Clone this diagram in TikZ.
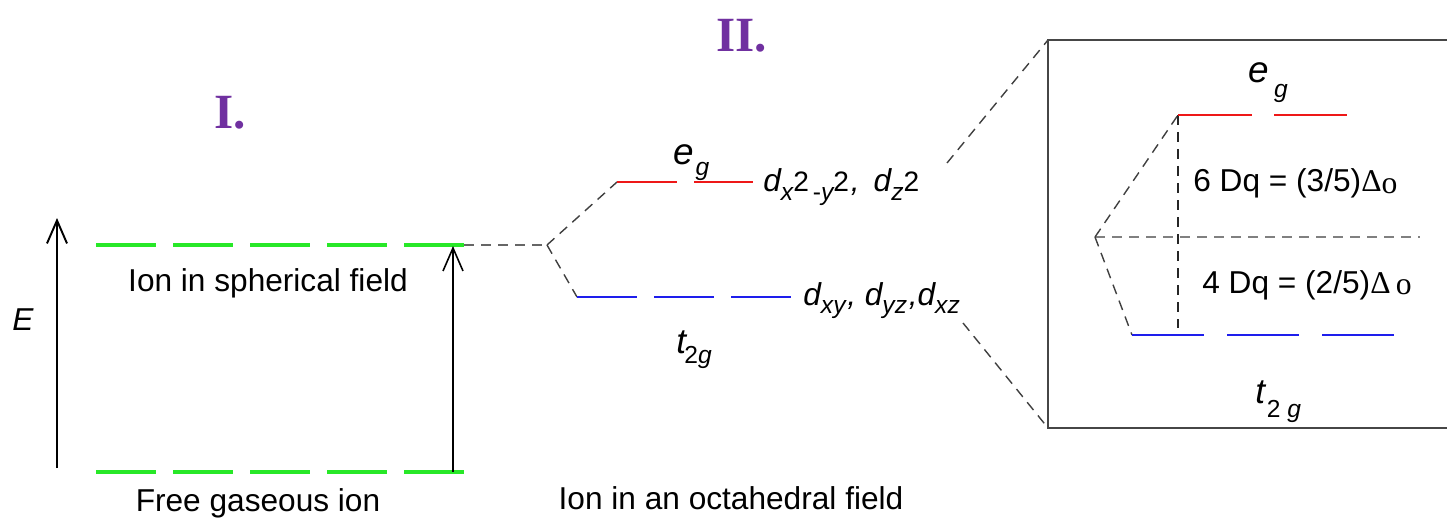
\documentclass[tikz,border=0pt]{standalone}
\usepackage{fontspec}
\setmainfont{Liberation Sans}
\newfontfamily\numfont{Liberation Serif}
\usetikzlibrary{arrows.meta}
\definecolor{CFgreen}{RGB}{40, 232, 40}
\definecolor{CFred}{RGB}{238, 24, 24}
\definecolor{CFblue}{RGB}{30, 30, 236}
\definecolor{CFpurple}{RGB}{112, 48, 160}
\definecolor{CFgray}{RGB}{70, 70, 70}
\newcommand{\lowsub}[2][5pt]{\raisebox{-#1}{\fontsize{14}{14}\selectfont\itshape #2}}
\newcommand{\pw}{{\fontsize{16}{16}\selectfont\upshape 2}}
\tikzset{
  lbl/.style={inner sep=0pt, font=\fontsize{18}{21}\selectfont},
  numeral/.style={inner sep=0pt, font=\fontsize{28}{30}\selectfont\numfont\bfseries, text=CFpurple},
  glvl/.style={line width=2pt, CFgreen, dash pattern=on 12mm off 3.4mm},
  rlvl/.style={line width=1.4pt, CFred, dash pattern=on 12mm off 3.4mm},
  blvl/.style={line width=1.5pt, CFblue, dash pattern=on 12mm off 3.4mm},
  guide/.style={line width=0.8pt, black!75, dash pattern=on 2mm off 1.4mm},
  axis/.style={line width=1.1pt, -{Straight Barb[length=4.6mm, width=4mm]}},
  frame/.style={line width=1.2pt, CFgray},
}

\begin{document}
\begin{tikzpicture}[x=0.2mm, y=-0.2mm]
    \useasboundingbox (0,0) rectangle (1447,519);
    % free ion and spherical field
    \coordinate (freeL) at (96,472); \coordinate (freeR) at (464,472);
    \coordinate (sphL) at (96,245); \coordinate (sphR) at (464,245);
    \coordinate (Ebot) at (57,468); \coordinate (Etop) at (57,218);
    \coordinate (gapB) at (453,472); \coordinate (gapT) at (453,246);
    \draw[glvl] (freeL)--(freeR); \draw[glvl] (sphL)--(sphR);
    \draw[axis] (Ebot)--(Etop);
    \draw[axis, line width=0.9pt] (gapB)--(gapT);
    \node[lbl, anchor=base] (sph) at (268,291) {Ion in spherical field};
    \node[lbl, anchor=base] (free) at (258,511) {Free gaseous ion};
    \node[lbl, anchor=base, font=\fontsize{18}{21}\selectfont\itshape] (E) at (23,330) {E};
    \node[numeral, anchor=base] (one) at (230,129) {I.};
    \node[numeral, anchor=base] (two) at (742,52) {II.};
    % octahedral splitting
    \coordinate (split) at (547,245);
    \coordinate (egL) at (617,182); \coordinate (egR) at (753,182);
    \coordinate (tL) at (577,297); \coordinate (tR) at (791,297);
    \draw[guide, black!60] (sphR)--(split);
    \draw[guide] (split)--(egL); \draw[guide] (split)--(tL);
    \draw[rlvl] (egL)--(egR); \draw[blvl] (tL)--(tR);
    \node[lbl, anchor=base west] (eg) at (673,165) {\fontsize{21}{21}\selectfont\itshape e\kern1pt\lowsub[6pt]{g}};
    \node[lbl, anchor=base west] (t2g) at (676,353) {\fontsize{20}{20}\selectfont\itshape t\kern-1pt\lowsub[6pt]{\upshape 2\itshape g}};
    \node[lbl, anchor=base west] (degs) at (763,192) {\itshape d\lowsub{x}\pw\lowsub{\upshape\,-\itshape y}\pw\kern1pt, \,d\lowsub{z}\pw};
    \node[lbl, anchor=base west] (tdeg) at (803,305) {\itshape d\lowsub{xy}\kern1pt, d\lowsub{yz}\kern1pt,d\lowsub{xz}};
    \node[lbl, anchor=base] (oct) at (731,509) {Ion in an octahedral field};
    % magnified box
    \coordinate (boxTR) at (1447,40); \coordinate (boxTL) at (1048,40);
    \coordinate (boxBL) at (1048,428); \coordinate (boxBR) at (1447,428);
    \coordinate (zoomT) at (947,163); \coordinate (zoomB) at (963,323);
    \draw[guide] (zoomT)--(boxTL); \draw[guide] (zoomB)--(boxBL);
    \draw[frame] (boxTR)--(boxTL)--(boxBL)--(boxBR);
    \coordinate (bsplit) at (1095,237); \coordinate (bmid) at (1420,237);
    \coordinate (beL) at (1178,115); \coordinate (beR) at (1347,115);
    \coordinate (btL) at (1132,335); \coordinate (btR) at (1396,335);
    \coordinate (bfoot) at (1178,328);
    \draw[guide, black!50] (bsplit)--(bmid);
    \draw[guide] (bsplit)--(beL); \draw[guide] (bsplit)--(btL);
    \draw[guide, black!85] (beL)--(bfoot);
    \draw[rlvl, dash pattern=on 14.8mm off 4.4mm] (beL)--(beR);
    \draw[blvl, dash pattern=on 14.4mm off 4.6mm] (btL)--(btR);
    \node[lbl, anchor=base west] (beg) at (1248,83) {\fontsize{21}{21}\selectfont\itshape e\kern3pt\lowsub[8pt]{g}};
    \node[lbl, anchor=base west] (bt2g) at (1255,403) {\fontsize{20}{20}\selectfont\itshape t\kern1pt\lowsub[8pt]{\upshape 2 \itshape g}};
    \node[lbl, anchor=base west] (six) at (1193,192) {6 Dq = (3/5){\numfont Δ\raisebox{-1pt}{o}}};
    \node[lbl, anchor=base west] (four) at (1202,293) {4 Dq = (2/5){\numfont Δ\,\raisebox{-1pt}{o}}};
\end{tikzpicture}
\end{document}
